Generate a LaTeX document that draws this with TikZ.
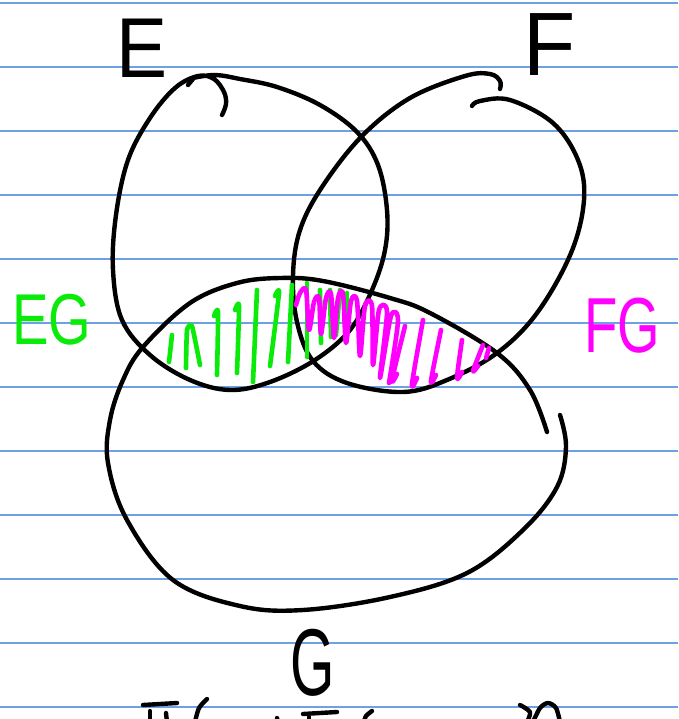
\documentclass[tikz,border=0pt]{standalone}
\usepackage{fontspec}
\setmainfont{Liberation Sans}
\definecolor{rulecol}{RGB}{110,160,230}
\definecolor{hgreen}{RGB}{10,235,10}
\definecolor{hmag}{RGB}{255,0,255}
\begin{document}
\begin{tikzpicture}[x=1pt,y=-1pt,
  ink/.style={line width=4.4pt, line cap=round, line join=round},
  pen/.style={ink, black},
  gpen/.style={ink, hgreen, line width=4.6pt},
  mpen/.style={ink, hmag, line width=4.6pt},
  rulestyle/.style={rulecol, line width=1.6pt},
  lbl/.style={inner sep=0pt, anchor=center}]
\useasboundingbox (0,0) rectangle (678,719);
\fill[white] (0,0) rectangle (678,719);
\foreach \yy in {3,67,...,707} \draw[rulestyle] (0,\yy) -- (678,\yy);

% labels
\node[lbl, text=black, xscale=0.9] (lblE) at (142,48) {\fontsize{85}{85}\selectfont E};
\node[lbl, text=black, xscale=0.95] (lblF) at (550,45) {\fontsize{90}{90}\selectfont F};
\node[lbl, text=black, xscale=0.6] (lblG) at (313,663) {\fontsize{95}{95}\selectfont G};
\node[lbl, text=hgreen, xscale=0.76] (lblEG) at (52,320) {\fontsize{72}{72}\selectfont EG};
\node[lbl, text=hmag, xscale=0.7] (lblFG) at (622,326) {\fontsize{78}{78}\selectfont FG};

% E loop
\draw[pen] (188,85) -- (193,79);
\draw[pen] plot[smooth, tension=0.6] coordinates {(193,78) (215,75) (240,79) (277,87) (320,105) (357,132) (378,165) (387,210) (385,250) (372,290) (350,330) (315,360) (270,382) (230,390) (190,380) (150,355) (122,320) (113,270) (116,215) (128,160) (150,118) (175,88) (198,76) (214,79) (224,92) (226,104) (222,115)};

% F loop
\draw[pen] plot[smooth, tension=0.6] coordinates {(472,106) (480,101) (510,100) (553,123) (578,160) (584,200) (571,253) (537,313) (497,353) (447,380) (403,392) (347,383) (313,361) (297,322) (293,275) (300,230) (322,187) (362,136) (410,98) (465,76) (490,74) (500,81) (500,89)};

% G loop
\draw[pen] plot[smooth, tension=0.6] coordinates {(560,415) (566,447) (557,487) (523,530) (467,573) (390,597) (303,610) (240,606) (173,580) (127,520) (108,463) (110,420) (123,380) (143,347) (190,303) (237,283) (280,278) (323,281) (390,298) (430,313) (497,353) (530,390) (547,432)};

% green hatching (EG)
\draw[gpen] (172,335) -- (169,362);
\draw[gpen] plot[smooth, tension=0.3] coordinates {(186,368) (187,330) (192,326) (200,365)};
\draw[gpen] plot[smooth, tension=0.4] coordinates {(214,316) (218,312) (217,375)};
\draw[gpen] plot[smooth, tension=0.4] coordinates {(235,310) (239,306) (237,373)};
\draw[gpen] (257,290) -- (253,382);
\draw[gpen] plot[smooth, tension=0.4] coordinates {(275,296) (279,293) (270,366)};
\draw[gpen] (292,285) -- (288,362);
\draw[gpen] (307,283) -- (307,357);
\draw[gpen] (320,290) -- (321,343);
\draw[gpen] (330,290) -- (331,337);
\draw[gpen] (340,290) -- (336,335);
\draw[gpen] (347,293) -- (347,323);

% magenta hatching (FG)
\draw[mpen] plot[smooth, tension=0.5] coordinates {(296,305) (300,293) (306,290) (309,330) (314,302) (319,298) (321,334) (326,298) (331,294) (334,338) (338,298) (343,294) (346,343) (351,301) (357,301) (360,356) (365,306) (372,306) (373,365) (379,310) (387,312) (380,378) (391,316) (398,321) (389,383)};
\draw[mpen] plot[smooth, tension=0.5] coordinates {(405,326) (392,380) (397,374)};
\draw[mpen] plot[smooth, tension=0.5] coordinates {(423,320) (412,384) (417,378)};
\draw[mpen] plot[smooth, tension=0.5] coordinates {(441,330) (431,381) (436,375)};
\draw[mpen] plot[smooth, tension=0.5] coordinates {(462,340) (457,378) (462,372)};
\draw[mpen] plot[smooth, tension=0.5] coordinates {(483,345) (473,371) (478,366)};
\draw[mpen] (489,348) -- (486,358);

% cut-off writing at the bottom edge
\draw[pen] (143,705) -- (177,703);
\draw[pen] (150,711) -- (150,722);
\draw[pen] (166,713) -- (167,722);
\draw[pen] plot[smooth, tension=0.5] coordinates {(207,699) (199,708) (195,722)};
\draw[pen] (277,718) -- (278,722);
\draw[pen] (303,714) -- (337,712);
\draw[pen] (309,716) -- (309,722);
\draw[pen] plot[smooth, tension=0.5] coordinates {(372,711) (366,716) (364,722)};
\draw[pen] plot[smooth, tension=0.5] coordinates {(520,705) (530,712) (527,722)};
\draw[pen] plot[smooth, tension=0.5] coordinates {(533,722) (540,708) (548,703) (556,708) (560,722)};
\end{tikzpicture}
\end{document}
